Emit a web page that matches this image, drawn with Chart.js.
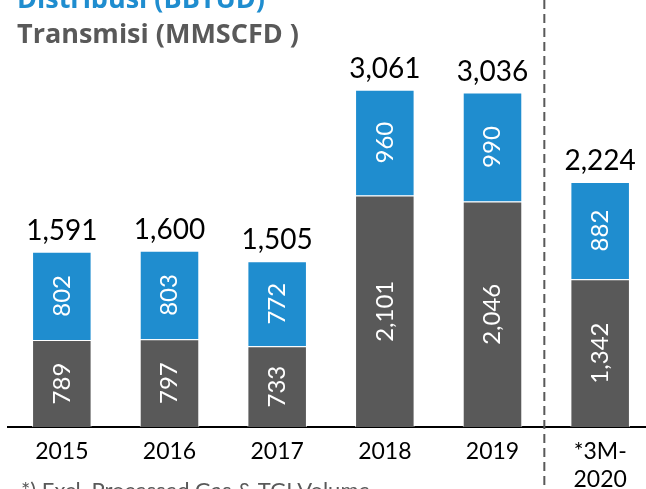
<!DOCTYPE html>
<html>
<head>
<meta charset="utf-8">
<script src="https://cdn.jsdelivr.net/npm/chart.js@4.4.0/dist/chart.umd.min.js"></script>
<style>
  html, body { margin: 0; padding: 0; overflow: hidden; background: #fff; width: 646px; height: 489px; }
  #wrap { position: relative; width: 646px; height: 489px; overflow: hidden; }
  canvas { position: absolute; left: 0; top: 0; }
  .t { position: absolute; left: 17px; font-family: "Open Sans", sans-serif; font-weight: 700; font-size: 27px; line-height: 36px; white-space: nowrap; }
  #t1 { top: -20px; color: #1F8DCF; }
  #t2 { top: 15px; color: #595959; }
  #fn { position: absolute; left: 21px; top: 477px; font-family: Lato, sans-serif; font-size: 22px; line-height: 26px; color: #595959; white-space: nowrap; }
</style>
</head>
<body>
<div id="wrap">
  <canvas id="c" width="654" height="489"></canvas>
  <div class="t" id="t1">Distribusi (BBTUD)</div>
  <div class="t" id="t2">Transmisi (MMSCFD )</div>
  <div id="fn">*) Excl. Processed Gas &amp; TGI Volume</div>
</div>
<script>
const categories = ['2015', '2016', '2017', '2018', '2019', ['*3M-', '2020']];
const transmisi = [789, 797, 733, 2101, 2046, 1342];
const distribusi = [802, 803, 772, 960, 990, 882];
const totals = [1591, 1600, 1505, 3061, 3036, 2224];

const fmt = v => v.toLocaleString('en-US');

const labelPlugin = {
  id: 'labels',
  afterDatasetsDraw(chart) {
    const ctx = chart.ctx;
    ctx.save();
    chart.data.datasets.forEach((ds, di) => {
      const meta = chart.getDatasetMeta(di);
      meta.data.forEach((bar, i) => {
        const cy = (bar.y + bar.base) / 2;
        ctx.save();
        ctx.translate(bar.x, cy);
        ctx.rotate(-Math.PI / 2);
        ctx.fillStyle = '#ffffff';
        ctx.font = '24px Lato, sans-serif';
        ctx.textAlign = 'center';
        ctx.textBaseline = 'middle';
        ctx.fillText(fmt(ds.data[i]), 0, 0);
        ctx.restore();
      });
    });
    const topMeta = chart.getDatasetMeta(chart.data.datasets.length - 1);
    topMeta.data.forEach((bar, i) => {
      ctx.fillStyle = '#000000';
      ctx.font = '28px Lato, sans-serif';
      ctx.textAlign = 'center';
      ctx.textBaseline = 'middle';
      ctx.fillText(fmt(totals[i]), bar.x, bar.y - 21);
    });
    const xs = chart.scales.x;
    const x = (xs.getPixelForValue(4) + xs.getPixelForValue(5)) / 2 - 2;
    ctx.strokeStyle = '#595959';
    ctx.lineWidth = 2;
    ctx.setLineDash([9, 5]);
    ctx.beginPath();
    ctx.moveTo(x, 0);
    ctx.lineTo(x, chart.height);
    ctx.stroke();
    ctx.restore();
  }
};

new Chart(document.getElementById('c'), {
  type: 'bar',
  data: {
    labels: categories,
    datasets: [
      { label: 'Transmisi (MMSCFD)', data: transmisi, backgroundColor: '#595959', borderColor: 'rgba(255,255,255,0.7)', borderWidth: 1, categoryPercentage: 1, barPercentage: 0.553 },
      { label: 'Distribusi (BBTUD)', data: distribusi, backgroundColor: '#1F8DCF', borderColor: 'rgba(255,255,255,0.7)', borderWidth: 1, categoryPercentage: 1, barPercentage: 0.553 }
    ]
  },
  options: {
    responsive: false,
    devicePixelRatio: 1,
    animation: false,
    layout: { padding: { left: 8, right: 0, top: 0, bottom: 0 } },
    plugins: { legend: { display: false }, tooltip: { enabled: false }, title: { display: false } },
    scales: {
      x: {
        stacked: true,
        grid: { display: false, drawTicks: false },
        border: { display: true, color: '#000000', width: 2 },
        ticks: { color: '#000000', font: { family: 'Lato', size: 23 }, padding: 11, maxRotation: 0, autoSkip: false },
        afterFit(scale) { scale.height = 62; }
      },
      y: {
        stacked: true,
        display: false,
        min: 0,
        max: 3876
      }
    }
  },
  plugins: [labelPlugin]
});
</script>
</body>
</html>
